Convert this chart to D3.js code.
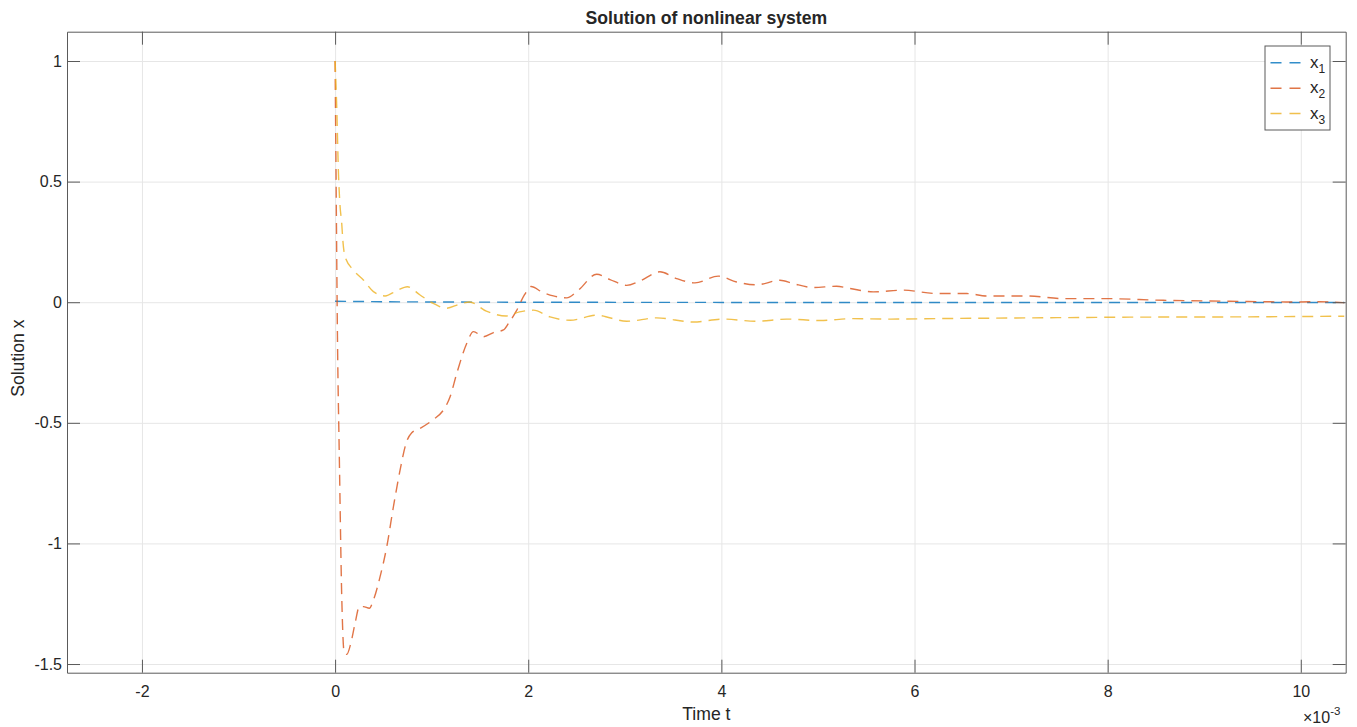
<!DOCTYPE html>
<html>
<head>
<meta charset="utf-8">
<script src="https://cdn.jsdelivr.net/npm/d3@7/dist/d3.min.js"></script>
<style>
  html, body { margin: 0; padding: 0; background: #ffffff; }
  svg { display: block; }
  text { font-family: "Liberation Sans", Arial, Helvetica, sans-serif; fill: #262626; }
</style>
</head>
<body>
<svg id="chart" width="1357" height="727"></svg>
<script>
// ---- Data (time in units of 1e-3 s) ----
const seriesNames = ["x1", "x2", "x3"];
const seriesColors = ["#0072BD", "#D95319", "#EDB120"];

const tX1 = [0, 0.5, 2, 5, 10.45];
const vX1 = [0.004, 0.002, 0.0, -0.001, -0.001];

const tX2 = [0, 0.01, 0.024, 0.045, 0.069, 0.093, 0.121, 0.163, 0.207, 0.252, 0.293, 0.355, 0.397,
  0.466, 0.535, 0.604, 0.673, 0.735, 0.794, 0.88, 1.018, 1.122, 1.191, 1.26, 1.364, 1.433, 1.536,
  1.64, 1.743, 1.80, 1.876, 1.962, 2.03, 2.14, 2.26, 2.398, 2.519, 2.709, 2.847, 3.02, 3.157, 3.364,
  3.537, 3.727, 3.968, 4.158, 4.365, 4.607, 4.745, 4.952, 5.193, 5.331, 5.573, 5.883, 6.229, 6.539,
  6.746, 7.16, 7.54, 7.953, 8.575, 9.265, 9.955, 10.2, 10.45];
const vX2 = [1.0, 0.53, -0.12, -0.668, -1.221, -1.449, -1.46, -1.414, -1.331, -1.262, -1.262, -1.269, -1.235,
  -1.138, -1.014, -0.848, -0.696, -0.585, -0.541, -0.523, -0.486, -0.447, -0.392, -0.295, -0.170, -0.122, -0.143,
  -0.126, -0.115, -0.085, -0.037, 0.031, 0.065, 0.043, 0.026, 0.018, 0.050, 0.116, 0.094, 0.070, 0.088, 0.126,
  0.098, 0.080, 0.108, 0.084, 0.072, 0.091, 0.077, 0.061, 0.066, 0.057, 0.043, 0.050, 0.036, 0.036,
  0.026, 0.026, 0.015, 0.015, 0.008, 0.004, 0.001, 0.002, -0.002];

const tX3 = [0, 0.017, 0.035, 0.052, 0.069, 0.08, 0.104, 0.19, 0.293, 0.397, 0.518, 0.639, 0.749, 0.88,
  1.018, 1.152, 1.29, 1.393, 1.566, 1.772, 1.91, 2.053, 2.226, 2.433, 2.709, 3.02, 3.33, 3.709, 4.02,
  4.365, 4.676, 5.021, 5.366, 5.71, 6.229, 7.19, 8.23, 9.27, 10.45];
const vX3 = [1.0, 0.81, 0.534, 0.396, 0.326, 0.258, 0.188, 0.133, 0.092, 0.044, 0.026, 0.048, 0.064, 0.03,
  -0.005, -0.025, -0.008, 0.001, -0.037, -0.057, -0.04, -0.033, -0.061, -0.075, -0.054, -0.079, -0.065, -0.082, -0.070,
  -0.079, -0.070, -0.076, -0.068, -0.070, -0.068, -0.065, -0.062, -0.061, -0.058];

const xTicks = [-2, 0, 2, 4, 6, 8, 10];
const yTicks = [-1.5, -1, -0.5, 0, 0.5, 1];
const xDomain = [-2.776, 10.465];
const yDomain = [-1.536, 1.1215];

const titleText = "Solution of nonlinear system";
const xLabelText = "Time t";
const yLabelText = "Solution x";

// ---- Layout ----
const svg = d3.select("#chart");
const L = 67, T = 31.7, R = 1345.7, B = 672.7;
const W = R - L, H = B - T;

const x = d3.scaleLinear().domain(xDomain).range([L, R]);
const y = d3.scaleLinear().domain(yDomain).range([B, T]);

const axisColor = "#5a5a5a";
const gridColor = "#e6e6e6";

// grid
svg.append("g").attr("transform", `translate(0,${B})`)
  .call(d3.axisBottom(x).tickValues(xTicks).tickSize(-H).tickFormat(""))
  .call(g => g.select(".domain").remove())
  .call(g => g.selectAll("line").attr("stroke", gridColor).attr("stroke-width", 1));
svg.append("g").attr("transform", `translate(${L},0)`)
  .call(d3.axisLeft(y).tickValues(yTicks).tickSize(-W).tickFormat(""))
  .call(g => g.select(".domain").remove())
  .call(g => g.selectAll("line").attr("stroke", gridColor).attr("stroke-width", 1));

// clip
svg.append("defs").append("clipPath").attr("id", "clip")
  .append("rect").attr("x", L).attr("y", T).attr("width", W).attr("height", H);

// lines
const series = [
  { t: tX1, v: vX1 },
  { t: tX2, v: vX2 },
  { t: tX3, v: vX3 }
];
const line = d3.line().x(d => x(d[0])).y(d => y(d[1])).curve(d3.curveMonotoneX);
const plot = svg.append("g").attr("clip-path", "url(#clip)");
series.forEach((s, i) => {
  const pts = s.t.map((t, j) => [t, s.v[j]]);
  plot.append("path").datum(pts)
    .attr("d", line)
    .attr("fill", "none")
    .attr("stroke", seriesColors[i])
    .attr("stroke-width", 1.4)
    .attr("stroke-dasharray", "11,7")
    .attr("opacity", 0.8);
});

// axes with inward ticks
const tickLen = 13;
const fmt = d => String(d);
function styleAxis(g) {
  g.select(".domain").attr("stroke", axisColor).attr("stroke-width", 1);
  g.selectAll(".tick line").attr("stroke", axisColor).attr("stroke-width", 1);
  g.selectAll("text").attr("font-size", 16).attr("fill", "#262626")
    .attr("font-family", '"Liberation Sans", Arial, Helvetica, sans-serif');
}
svg.append("g").attr("transform", `translate(0,${B})`)
  .call(d3.axisBottom(x).tickValues(xTicks).tickSizeInner(-tickLen).tickSizeOuter(0).tickPadding(13).tickFormat(fmt))
  .call(styleAxis);
svg.append("g").attr("transform", `translate(0,${T})`)
  .call(d3.axisTop(x).tickValues(xTicks).tickSizeInner(-tickLen).tickSizeOuter(0).tickFormat(""))
  .call(styleAxis);
svg.append("g").attr("transform", `translate(${L},0)`)
  .call(d3.axisLeft(y).tickValues(yTicks).tickSizeInner(-tickLen).tickSizeOuter(0).tickPadding(5).tickFormat(fmt))
  .call(styleAxis);
svg.append("g").attr("transform", `translate(${R},0)`)
  .call(d3.axisRight(y).tickValues(yTicks).tickSizeInner(-tickLen).tickSizeOuter(0).tickFormat(""))
  .call(styleAxis);

// title & labels
svg.append("text").attr("x", (L + R) / 2).attr("y", 24)
  .attr("text-anchor", "middle").attr("font-size", 17.6).attr("font-weight", "bold")
  .attr("fill", "#000").text(titleText);
svg.append("text").attr("x", (L + R) / 2).attr("y", 720)
  .attr("text-anchor", "middle").attr("font-size", 17.6).text(xLabelText);
svg.append("text").attr("transform", `translate(24,${(T + B) / 2 + 6}) rotate(-90)`)
  .attr("text-anchor", "middle").attr("font-size", 17.6).text(yLabelText);

// exponent label
const ex = svg.append("text").attr("x", 1303).attr("y", 723).attr("font-size", 16);
ex.append("tspan").text("×10");
ex.append("tspan").attr("dy", -8).attr("font-size", 11.5).text("-3");

// legend
const lg = svg.append("g");
lg.append("rect").attr("x", 1265).attr("y", 46).attr("width", 65).attr("height", 84)
  .attr("fill", "#fff").attr("stroke", axisColor).attr("stroke-width", 1);
const legendY = [62.7, 88.2, 113.5];
seriesNames.forEach((n, i) => {
  lg.append("line").attr("x1", 1270.5).attr("x2", 1302).attr("y1", legendY[i]).attr("y2", legendY[i])
    .attr("stroke", seriesColors[i]).attr("stroke-width", 1.4).attr("stroke-dasharray", "11,8")
    .attr("opacity", 0.8);
  const t = lg.append("text").attr("x", 1310).attr("y", legendY[i] + 5).attr("font-size", 17);
  t.append("tspan").text("x");
  t.append("tspan").attr("dy", 5).attr("font-size", 12).text(String(i + 1));
});
</script>
</body>
</html>
